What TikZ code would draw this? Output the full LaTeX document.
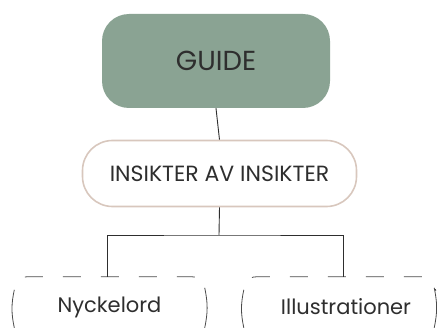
\documentclass[tikz,border=0pt]{standalone}
\usepackage{fontspec}
\setmainfont{Poppins}
\usetikzlibrary{calc}
\definecolor{sage}{HTML}{8AA393}
\definecolor{blush}{HTML}{D8C7BD}
\definecolor{ink}{HTML}{2E2E2E}
\definecolor{dashc}{HTML}{4A4A4A}
\begin{document}
\begin{tikzpicture}[x=1pt,y=1pt,
  guidebox/.style={fill=sage, rounded corners=27pt, minimum width=228pt, minimum height=94pt, text=ink, font=\fontsize{27.5}{32}\selectfont, inner sep=0pt},
  insbox/.style={draw=blush, line width=1.6pt, fill=white, rounded corners=30pt, minimum width=274pt, minimum height=66pt, text=ink, font=\fontsize{22}{26}\selectfont, inner sep=0pt},
  leafbox/.style={minimum width=193pt, minimum height=60pt, text=ink, font=\fontsize{21}{25}\selectfont, inner sep=0pt},
  leaftop/.style={draw=dashc, line width=0.8pt, dash pattern=on 18pt off 20pt},
  leafside/.style={draw=dashc, line width=0.8pt},
  conn/.style={draw=ink, line width=0.9pt}]
\useasboundingbox (0,0) rectangle (437,-329);
\node[guidebox] (guide) at (216,-61) {GUIDE};
\node[insbox] (ins) at (219.5,-173.5) {INSIKTER AV INSIKTER};
\node[leafbox] (nyc) at (109.5,-307) {Nyckelord};
\node[leafbox] (ill) at (339,-307) {\hspace*{14pt}Illustrationer};
% dashed tops and side strokes of the leaf boxes
\draw[leaftop, dash phase=18pt] ($(nyc.north west)+(0,-14)$) arc[start angle=180, end angle=90, radius=14pt] -- ($(nyc.north east)+(-14,0)$) arc[start angle=90, end angle=0, radius=14pt];
\draw[leafside] ($(nyc.north west)+(1.5,-13)$) to[bend right=12] ($(nyc.north west)+(1.5,-51)$);
\draw[leafside] ($(nyc.north east)+(-1.5,-11)$) to[bend left=12] ($(nyc.north east)+(-1.5,-51)$);
\draw[leaftop, dash phase=20.5pt] ($(ill.north west)+(0,-14)$) arc[start angle=180, end angle=90, radius=14pt] -- ($(ill.north east)+(-14,0)$) arc[start angle=90, end angle=0, radius=14pt];
\draw[leafside] ($(ill.north west)+(1.5,-13)$) to[bend right=12] ($(ill.north west)+(1.5,-51)$);
\draw[leafside] ($(ill.north east)+(-1.5,-11)$) to[bend left=12] ($(ill.north east)+(-1.5,-51)$);
\coordinate (j) at (219,-235);
\draw[conn] (guide.south) -- (ins.north);
\draw[conn] (ins.south) -- (j);
\draw[conn] ($(nyc.north)+(-2.5,0)$) |- (j) -| ($(ill.north)+(4,0)$);
\end{tikzpicture}
\end{document}
